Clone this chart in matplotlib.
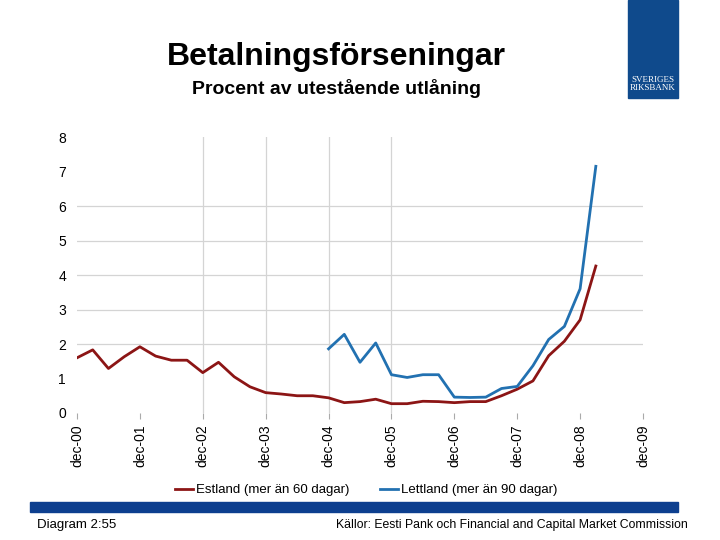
import matplotlib.pyplot as plt
from matplotlib.patches import Rectangle

plt.rcParams['font.family'] = ['Liberation Sans', 'DejaVu Sans']

# quarterly data, dec-00 .. mar-09
tick_labels = ['dec-00', 'dec-01', 'dec-02', 'dec-03', 'dec-04',
               'dec-05', 'dec-06', 'dec-07', 'dec-08', 'dec-09']

estland = [1.60, 1.83, 1.29, 1.63, 1.92, 1.65, 1.53, 1.53, 1.17, 1.47,
           1.05, 0.76, 0.59, 0.55, 0.50, 0.50, 0.44, 0.30, 0.33, 0.40,
           0.27, 0.27, 0.34, 0.33, 0.30, 0.33, 0.33, 0.50, 0.69, 0.93,
           1.66, 2.08, 2.70, 4.26]

lettland = [1.86, 2.28, 1.47, 2.03, 1.11, 1.03, 1.11, 1.11, 0.46, 0.45,
            0.46, 0.71, 0.77, 1.37, 2.13, 2.51, 3.60, 7.15]

x_est = list(range(len(estland)))
x_let = list(range(16, 16 + len(lettland)))

red = '#8c1515'
blue = '#2271b1'

fig = plt.figure(figsize=(7.2, 5.4), dpi=100)
ax = fig.add_axes([77 / 720, 1 - 413 / 540, 566 / 720, 276 / 540])

# faint grid as in the original
for v in range(2, 7):
    ax.axhline(v, color='#d4d4d4', lw=0.9, zorder=0)
for q in (8, 12, 16, 20):
    ax.axvline(q, color='#d4d4d4', lw=0.9, zorder=0)

ax.plot(x_est, estland, color=red, lw=2.0, label='Estland (mer än 60 dagar)')
ax.plot(x_let, lettland, color=blue, lw=2.0, label='Lettland (mer än 90 dagar)')

ax.set_xlim(0, 36)
ax.set_ylim(0, 8)
ax.set_yticks(range(0, 9))
ax.set_xticks(range(0, 37, 4))
ax.set_xticklabels(tick_labels, rotation=90)
ax.tick_params(axis='y', length=0, pad=8, labelsize=10)
ax.tick_params(axis='x', length=4, color='#aaaaaa', pad=4, labelsize=10)
for s in ax.spines.values():
    s.set_visible(False)

fig.text(336 / 720, 1 - 57 / 540, 'Betalningsförseningar', ha='center', va='center',
         fontsize=23, fontweight='bold')
fig.text(336 / 720, 1 - 88 / 540, 'Procent av utestående utlåning', ha='center',
         va='center', fontsize=14, fontweight='bold')

# logo
fig.patches.append(Rectangle((628 / 720, 1 - 98 / 540), 50 / 720, 98 / 540,
                             transform=fig.transFigure, color='#0f4a8c'))
fig.text(653 / 720, 1 - 84 / 540, 'SVERIGES\nRIKSBANK', ha='center', va='center',
         fontsize=6.5, color='white', family='Liberation Serif', linespacing=1.0)

fig.legend(loc='center', bbox_to_anchor=(366 / 720, 1 - 490 / 540), ncol=2,
           frameon=False, fontsize=9.5, handlelength=1.4, handletextpad=0.2,
           columnspacing=2.3)

fig.patches.append(Rectangle((30 / 720, 1 - 512 / 540), 648 / 720, 10 / 540,
                             transform=fig.transFigure, color='#0d3f8f'))
fig.text(37 / 720, 1 - 525 / 540, 'Diagram 2:55', ha='left', va='center', fontsize=9.5)
fig.text(688 / 720, 1 - 525 / 540,
         'Källor: Eesti Pank och Financial and Capital Market Commission',
         ha='right', va='center', fontsize=8.8)

fig.savefig('out.png', dpi=100)
